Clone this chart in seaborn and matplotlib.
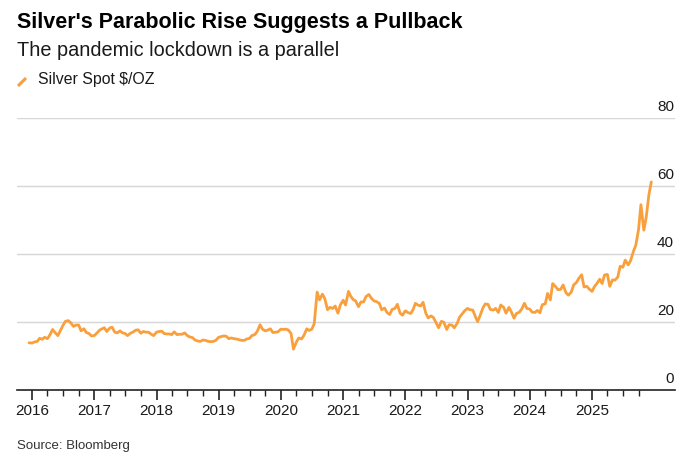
import pandas as pd
import matplotlib
matplotlib.use('Agg')
import matplotlib.pyplot as plt
from matplotlib.lines import Line2D
import seaborn as sns

# Silver spot price, read off the chart roughly twice a month (1st and 15th)
start_2015 = [13.9]
prices_2016 = [13.8, 14.1, 14.3, 15.2, 14.9, 15.5, 15.1, 16.2, 17.8, 16.9, 16.0, 17.4,
               19.0, 20.2, 20.4, 19.8, 18.7, 19.1, 19.1, 17.4, 18.0, 16.9, 16.6, 15.9]
prices_2017 = [16.0, 16.7, 17.6, 18.0, 18.3, 17.2, 18.2, 18.5, 17.0, 16.8, 17.4, 16.8,
               16.6, 16.0, 16.7, 17.0, 17.6, 17.7, 16.7, 17.2, 17.0, 17.0, 16.4, 16.0]
prices_2018 = [17.0, 17.2, 17.3, 16.6, 16.5, 16.5, 16.3, 17.1, 16.3, 16.4, 16.4, 16.8,
               16.0, 15.6, 15.4, 14.7, 14.4, 14.3, 14.7, 14.6, 14.3, 14.2, 14.3, 14.6]
prices_2019 = [15.5, 15.7, 15.9, 15.8, 15.1, 15.3, 15.1, 15.0, 14.8, 14.6, 14.6, 15.0,
               15.2, 16.0, 16.3, 17.2, 19.2, 17.9, 17.4, 17.6, 18.0, 16.9, 17.0, 17.1]
prices_2020 = [17.9, 17.8, 17.9, 17.6, 16.6, 12.0, 14.1, 15.3, 15.0, 16.0, 18.0, 17.5,
               17.9, 19.5, 28.8, 26.5, 28.2, 26.9, 23.6, 24.3, 24.0, 24.7, 22.6, 25.0]
prices_2021 = [26.4, 25.0, 29.0, 27.5, 26.6, 26.2, 24.5, 25.9, 25.9, 27.5, 28.1, 27.0,
               26.2, 26.0, 25.5, 23.6, 24.1, 22.8, 22.2, 23.7, 24.0, 25.2, 22.6, 22.0]
prices_2022 = [23.3, 22.8, 22.5, 23.6, 25.5, 25.0, 24.7, 25.8, 22.6, 21.2, 21.8, 21.3,
               19.7, 18.3, 20.2, 19.9, 17.8, 19.2, 19.1, 18.3, 19.6, 21.4, 22.4, 23.3]
prices_2023 = [24.0, 23.6, 23.5, 21.7, 20.1, 21.8, 24.1, 25.3, 25.2, 23.7, 23.5, 24.0,
               22.8, 25.0, 24.3, 22.6, 24.3, 23.0, 21.1, 22.5, 22.9, 23.8, 25.5, 24.0]
prices_2024 = [23.8, 22.9, 22.8, 23.4, 22.7, 25.1, 25.3, 28.4, 26.5, 31.3, 30.4, 29.5,
               29.6, 30.9, 28.6, 27.9, 28.8, 30.9, 31.6, 32.8, 33.9, 30.3, 30.5, 29.7]
prices_2025 = [29.0, 30.4, 31.5, 32.6, 31.3, 33.8, 34.0, 30.5, 32.4, 32.3, 33.2, 36.4,
               36.1, 38.2, 36.8, 38.0, 40.8, 42.6, 47.2, 54.5, 47.0, 50.8, 57.5, 61.2]

prices = (start_2015 + prices_2016 + prices_2017 + prices_2018 + prices_2019 + prices_2020
          + prices_2021 + prices_2022 + prices_2023 + prices_2024 + prices_2025)
dates = pd.date_range('2015-12-15', periods=len(prices), freq='SMS')
df = pd.DataFrame({'date': dates, 'price': prices})

year_ticks = pd.date_range('2016-01-01', '2025-01-01', freq='YS')
quarter_ticks = [d for d in pd.date_range('2016-01-01', '2025-10-01', freq='QS') if d.month != 1]
y_ticks = [0, 20, 40, 60, 80]

orange = '#F99F3C'
text_col = '#1a1a1a'

sns.set_style('white')
plt.rcParams['font.family'] = ['Liberation Sans', 'DejaVu Sans']

fig = plt.figure(figsize=(7, 4.66), dpi=100)
ax = fig.add_axes([17/700, 1 - 390/466, 658/700, 272/466])

sns.lineplot(data=df, x='date', y='price', color=orange, linewidth=2.0, ax=ax, legend=False)

ax.set_xlim(pd.Timestamp('2015-10-05'), pd.Timestamp('2026-05-03'))
ax.set_ylim(0, 80)

# gridlines + right-side labels sitting above the lines
for v in y_ticks:
    if v > 0:
        ax.axhline(v, color='#d6d6d6', linewidth=1.0, zorder=0)
    ax.annotate(str(v), xy=(1, v), xycoords=('axes fraction', 'data'),
                xytext=(-1, 7), textcoords='offset pixels', ha='right', va='baseline',
                fontsize=11, color=text_col)
ax.set_yticks([])

ax.set_xticks(year_ticks)
ax.set_xticklabels([str(d.year) for d in year_ticks], fontsize=11, color=text_col)
ax.set_xticks(quarter_ticks, minor=True)
ax.tick_params(axis='x', which='major', length=7, width=1.2, color='#222222', pad=3, direction='out')
ax.tick_params(axis='x', which='minor', length=4, width=1.0, color='#222222', direction='out')
ax.xaxis.set_ticks_position('bottom')

for side in ['top', 'left', 'right']:
    ax.spines[side].set_visible(False)
ax.spines['bottom'].set_color('#222222')
ax.spines['bottom'].set_linewidth(1.2)
ax.set_xlabel('')
ax.set_ylabel('')

fig.text(17/700, 1 - 28/466, "Silver's Parabolic Rise Suggests a Pullback",
         fontsize=15.5, fontweight='bold', color='black', va='baseline')
fig.text(17/700, 1 - 56/466, 'The pandemic lockdown is a parallel',
         fontsize=14.3, color=text_col, va='baseline')
fig.add_artist(Line2D([18/700, 26/700], [1 - 86/466, 1 - 78/466], transform=fig.transFigure,
                      color=orange, linewidth=2.2, solid_capstyle='butt'))
fig.text(38/700, 1 - 84/466, 'Silver Spot $/OZ', fontsize=11.4, color=text_col, va='baseline')
fig.text(17/700, 1 - 449/466, 'Source: Bloomberg', fontsize=9.5, color='#333333', va='baseline')

fig.savefig('out.png', dpi=100)
